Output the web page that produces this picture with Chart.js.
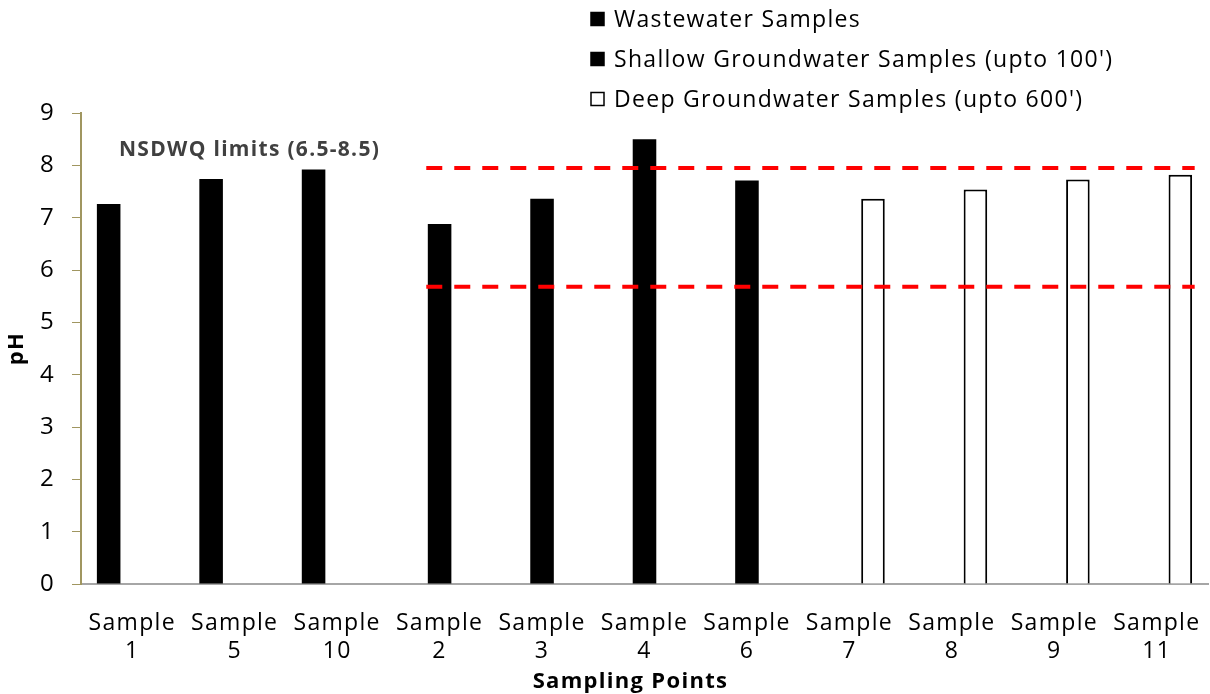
<!DOCTYPE html>
<html>
<head>
<meta charset="utf-8">
<script src="https://cdn.jsdelivr.net/npm/chart.js@4/dist/chart.umd.min.js"></script>
<style>
  html, body { margin: 0; padding: 0; background: #fff; }
  #wrap { width: 1210px; height: 694px; }
</style>
</head>
<body>
<div id="wrap"><canvas id="myChart" width="1210" height="694"></canvas></div>
<script>
// data
const categories = [
  ["Sample", "1"], ["Sample", "5"], ["Sample", "10"], ["Sample", "2"],
  ["Sample", "3"], ["Sample", "4"], ["Sample", "6"], ["Sample", "7"],
  ["Sample", "8"], ["Sample", "9"], ["Sample", "11"]
];
const seriesNames = [
  "Wastewater Samples",
  "Shallow Groundwater Samples (upto 100')",
  "Deep Groundwater Samples (upto 600')"
];
const wastewater = [7.26, 7.74, 7.92, null, null, null, null, null, null, null, null];
const shallow = [null, null, null, 6.88, 7.36, 8.5, 7.71, null, null, null, null];
const deep = [null, null, null, null, null, null, null, 7.36, 7.54, 7.73, 7.82];
const yTicks = [0, 1, 2, 3, 4, 5, 6, 7, 8, 9];
// red dashed limit lines (as drawn), x in category units on a hidden linear axis
const limitX = [3.37, 10.87];
const limitValues = [7.95, 5.68];
const limitLabel = "NSDWQ limits (6.5-8.5)";

const FONT = "'Open Sans', 'Noto Sans', sans-serif";
const SPACING = "1.3px";

// wider letter spacing like the original's text
const spacing = {
  id: "spacing",
  beforeUpdate(chart) { chart.ctx.letterSpacing = SPACING; },
  beforeDraw(chart) { chart.ctx.letterSpacing = SPACING; },
};

// dashed limit lines, placed with the chart's own scales
const limitLines = {
  id: "limitLines",
  afterDatasetsDraw(chart) {
    const ctx = chart.ctx;
    const xs = chart.scales.x2;
    const ys = chart.scales.y;
    ctx.save();
    ctx.strokeStyle = "#ff0000";
    ctx.lineWidth = 4;
    ctx.setLineDash([16, 12]);
    limitValues.forEach((v) => {
      const y = ys.getPixelForValue(v);
      ctx.beginPath();
      ctx.moveTo(xs.getPixelForValue(limitX[0]), y);
      ctx.lineTo(xs.getPixelForValue(limitX[1]), y);
      ctx.stroke();
    });
    ctx.restore();
  },
};

// legend drawn as a column at top right
const columnLegend = {
  id: "columnLegend",
  afterDraw(chart) {
    const ctx = chart.ctx;
    ctx.save();
    ctx.font = "23px " + FONT;
    ctx.textBaseline = "middle";
    let y = 19;
    chart.data.datasets.forEach((ds) => {
      ctx.fillStyle = ds.backgroundColor;
      ctx.fillRect(591, y - 6.5, 13, 13);
      ctx.strokeStyle = "#000";
      ctx.lineWidth = 1.5;
      ctx.strokeRect(591, y - 6.5, 13, 13);
      ctx.fillStyle = "#000";
      ctx.fillText(ds.label, 614, y + 1);
      y += 40;
    });
    ctx.restore();
  },
};

// "NSDWQ limits" note
const limitNote = {
  id: "limitNote",
  afterDraw(chart) {
    const ctx = chart.ctx;
    const ys = chart.scales.y;
    ctx.save();
    ctx.font = "bold 21px " + FONT;
    ctx.fillStyle = "#404040";
    ctx.textAlign = "left";
    ctx.textBaseline = "middle";
    ctx.fillText(limitLabel, chart.chartArea.left + 38, ys.getPixelForValue(8.3));
    ctx.restore();
  },
};

function barSet(label, data, fill) {
  return {
    label: label,
    data: data,
    backgroundColor: fill,
    borderColor: "#000000",
    borderWidth: fill === "#ffffff" ? 2 : 0,
  };
}

let ctx = document.getElementById("myChart").getContext("2d");
let myChart = new Chart(ctx, {
  type: "bar",
  data: {
    labels: categories,
    datasets: [
      barSet(seriesNames[0], wastewater, "#000000"),
      barSet(seriesNames[1], shallow, "#000000"),
      barSet(seriesNames[2], deep, "#ffffff"),
    ],
  },
  options: {
    responsive: false,
    animation: false,
    datasets: { bar: { categoryPercentage: 0.69, barPercentage: 1.0 } },
    layout: { padding: { top: 113, right: 2, left: 0, bottom: 0 } },
    plugins: {
      legend: { display: false },
      tooltip: { enabled: false },
    },
    scales: {
      x: {
        type: "category",
        grid: { display: false },
        border: { display: true, color: "#a6a6a6", width: 2 },
        ticks: {
          color: "#000",
          font: { family: FONT, size: 23, lineHeight: 1.2 },
          padding: 18,
          maxRotation: 0,
          autoSkip: false,
        },
        title: {
          display: true,
          text: "Sampling Points\u00a0\u00a0\u00a0\u00a0",
          color: "#000",
          font: { family: FONT, size: 22, weight: "bold", lineHeight: 1.1 },
          padding: { top: 0, bottom: 0 },
        },
        afterFit: (s) => {
          s.height = 110;
          s.paddingLeft = 0;
          s.paddingRight = 0;
        },
      },
      x2: {
        type: "linear",
        display: false,
        offset: false,
        min: 0,
        max: 11,
      },
      y: {
        min: 0,
        max: 9,
        afterBuildTicks: (s) => { s.ticks = yTicks.map((v) => ({ value: v })); },
        grid: {
          drawOnChartArea: false,
          drawTicks: true,
          tickLength: 9,
          color: "#a09660",
        },
        border: { display: true, color: "#a09660", width: 2 },
        ticks: {
          color: "#000",
          font: { family: FONT, size: 24 },
          padding: 17,
        },
        title: {
          display: true,
          text: "pH",
          color: "#000",
          font: { family: FONT, size: 22, weight: "bold" },
          padding: { top: 4, bottom: 0 },
        },
        afterFit: (s) => { s.width = 81; },
      },
    },
  },
  plugins: [spacing, limitLines, columnLegend, limitNote],
});
</script>
</body>
</html>
